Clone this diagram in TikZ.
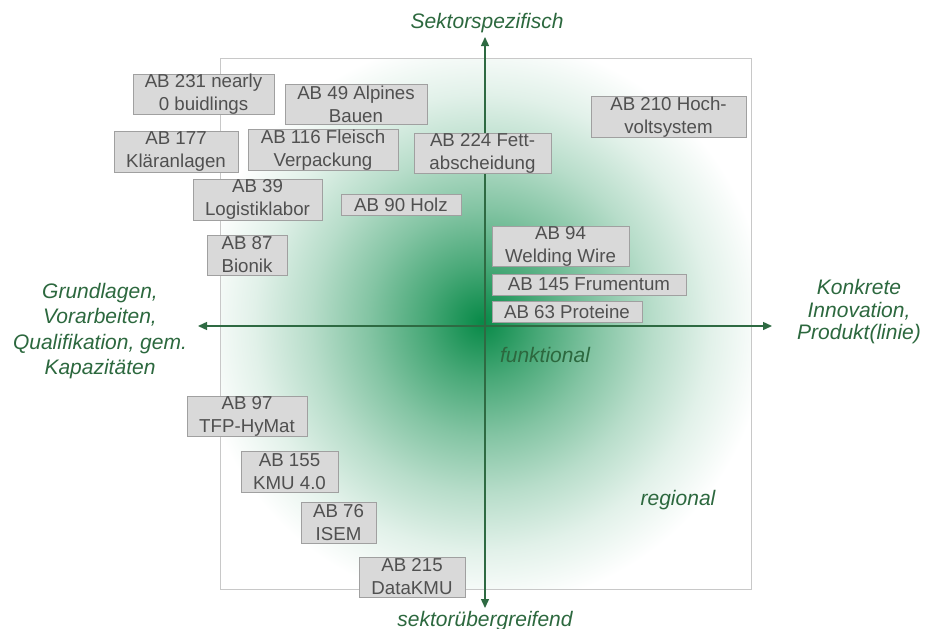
\documentclass[tikz,border=0pt]{standalone}
\usepackage{fontspec}
\setmainfont{Liberation Sans}
\usetikzlibrary{arrows.meta}
\definecolor{gc}{RGB}{8,138,72}
\definecolor{axisgreen}{RGB}{46,106,66}
\definecolor{labgreen}{RGB}{44,104,62}
\definecolor{boxfill}{RGB}{217,217,217}
\definecolor{boxline}{RGB}{160,160,160}
\definecolor{boxtext}{RGB}{80,80,80}
\definecolor{framecol}{RGB}{200,200,200}
\pgfdeclareradialshading{glow}{\pgfpoint{0bp}{0bp}}{color(0bp)=(gc); color(2bp)=(gc!90!white); color(5bp)=(gc!74!white); color(10bp)=(gc!50!white); color(15bp)=(gc!29!white); color(20bp)=(gc!12!white); color(25bp)=(white); color(50bp)=(white)}
\tikzset{
  abbox/.style={draw=boxline, fill=boxfill, line width=1pt, inner sep=0pt, align=center,
    text=boxtext, font=\fontsize{18.7}{23}\selectfont},
  axislabel/.style={text=labgreen, font=\fontsize{21}{23}\selectfont\itshape, align=center, inner sep=0pt},
  axisline/.style={draw=axisgreen, line width=1.4pt, {Triangle[length=9pt,width=8pt]}-{Triangle[length=9pt,width=8pt]}}
}
\begin{document}
\begin{tikzpicture}[x=1pt,y=-1pt]
\useasboundingbox (0,0) rectangle (929,629);
% shaded background, clipped to frame
\begin{scope}
  \clip (220,58) rectangle (751,589);
  \path[shading=glow] (482,322) circle (285);
\end{scope}
\node[draw=framecol, line width=0.8pt, minimum width=531pt, minimum height=531pt, inner sep=0pt] (frame) at (485.5,323.5) {};
% axes
\coordinate (top) at (485,37);
\coordinate (bot) at (485,608);
\coordinate (left) at (198,326);
\coordinate (right) at (772,326);
\draw[axisline] (bot) -- (top);
\draw[axisline] (left) -- (right);
% axis labels
\node[axislabel, anchor=base] (ls) at (487,28) {Sektorspezifisch};
\node[axislabel, anchor=base] (lu) at (485,626) {sektorübergreifend};
\node[axislabel, font=\fontsize{21}{25.5}\selectfont\itshape] (ll) at (100,331) {Grundlagen,\\Vorarbeiten,\\Qualifikation, gem.\\Kapazitäten};
\node[axislabel, font=\fontsize{21}{22.5}\selectfont\itshape] (lr) at (859,312) {Konkrete\\Innovation,\\Produkt(linie)};
\node[axislabel] (lf) at (545,355) {funktional};
\node[axislabel] (lg) at (678,500) {regional};
% boxes
\node[abbox, minimum width=141pt, minimum height=39pt] (b231) at (203.5,94.5) {AB 231 nearly\\0 buidlings};
\node[abbox, minimum width=142pt, minimum height=40pt] (b49) at (356,104) {AB 49 Alpines\\Bauen};
\node[abbox, minimum width=124pt, minimum height=41pt] (b177) at (176,151.5) {AB 177\\Kläranlagen};
\node[abbox, minimum width=150pt, minimum height=40pt] (b116) at (323,150) {AB 116 Fleisch\\Verpackung};
\node[abbox, minimum width=137pt, minimum height=40pt] (b224) at (482.5,153) {AB 224 Fett-\\abscheidung};
\node[abbox, minimum width=129pt, minimum height=41pt] (b39) at (257.5,199.5) {AB 39\\Logistiklabor};
\node[abbox, minimum width=120pt, minimum height=21pt] (b90) at (401,204.5) {AB 90 Holz};
\node[abbox, minimum width=155pt, minimum height=40pt] (b210) at (668.5,117) {AB 210 Hoch-\\voltsystem};
\node[abbox, minimum width=137pt, minimum height=39pt] (b94) at (560.5,246.5) {AB 94\\Welding Wire};
\node[abbox, minimum width=194pt, minimum height=21pt] (b145) at (589,284.5) {AB 145 Frumentum};
\node[abbox, minimum width=150pt, minimum height=21pt] (b63) at (567,311.5) {AB 63 Proteine};
\node[abbox, minimum width=80pt, minimum height=40pt] (b87) at (247,255) {AB 87\\Bionik};
\node[abbox, minimum width=120pt, minimum height=40pt] (b97) at (247,416) {AB 97\\TFP-HyMat};
\node[abbox, minimum width=97pt, minimum height=41pt] (b155) at (289.5,471.5) {AB 155\\KMU 4.0};
\node[abbox, minimum width=75pt, minimum height=41pt] (b76) at (338.5,522.5) {AB 76\\ISEM};
\node[abbox, minimum width=106pt, minimum height=40pt] (b215) at (412,577) {AB 215\\DataKMU};
\end{tikzpicture}
\end{document}
